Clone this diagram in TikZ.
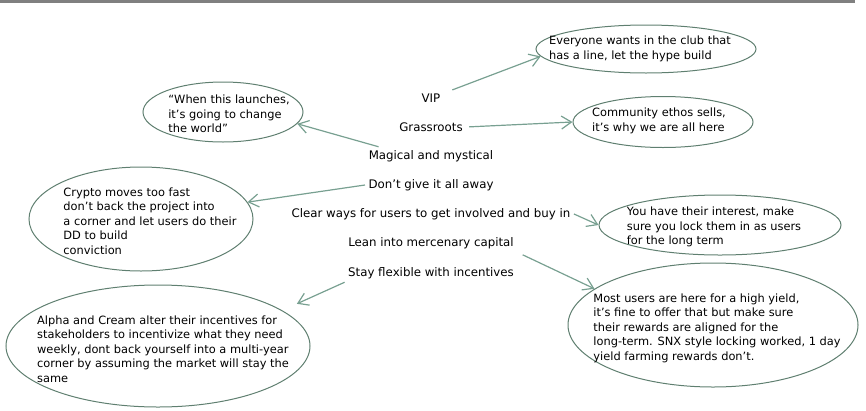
\documentclass[tikz,border=0pt]{standalone}
\usepackage{fontspec}
\setmainfont{DejaVu Sans}
\usetikzlibrary{shapes.geometric,arrows.meta}
\definecolor{linegreen}{HTML}{78A091}
\definecolor{bubblegreen}{HTML}{5F7F70}

\begin{document}
\begin{tikzpicture}[
    x=1pt, y=-1pt,
    word/.style={
        font=\fontsize{11.8}{13}\selectfont
    },
    bubble/.style={
        ellipse,
        draw=bubblegreen,
        line width=1pt
    },
    note/.style={
        align=left,
        inner sep=0pt,
        font=\fontsize{11.4}{14.5}\selectfont
    },
    arr/.style={
        draw=linegreen,
        line width=1.2pt,
        -{Straight Barb[length=10pt,width=13pt]}
    }
]
\useasboundingbox (0,0) rectangle (866,410);

% 위쪽 선
\draw[line width=3pt, gray] (0,1.5) -- (855,1.5);

% 가운데 항목
\node[word] (vip) at (431,98) {VIP};
\node[word] (grass) at (431,127) {Grassroots};
\node[word] (magic) at (431,156) {Magical and mystical};
\node[word] (dont) at (431,185) {Don't give it all away};
\node[word] (clear) at (431,214) {Clear ways for users to get involved and buy in};
\node[word] (lean) at (431,243) {Lean into mercenary capital};
\node[word] (stay) at (431,273) {Stay flexible with incentives};

% 말풍선
\node[bubble, minimum width=160pt, minimum height=60pt] (launch) at (223,112) {};
\node[bubble, minimum width=220pt, minimum height=48pt] (club) at (646,49) {};
\node[bubble, minimum width=180pt, minimum height=51pt] (ethos) at (663,122) {};
\node[bubble, minimum width=224pt, minimum height=104pt] (crypto) at (141,219) {};
\node[bubble, minimum width=242pt, minimum height=60pt] (interest) at (720,225) {};
\node[bubble, minimum width=290pt, minimum height=124pt] (yield) at (713,325) {};
\node[bubble, minimum width=304pt, minimum height=122pt] (alpha) at (158,346) {};

% 말풍선 글
\node[note] (launch-t) at (229,114) {``When this launches,\\it's going to change\\the world''};
\node[note] (club-t) at (640,49) {Everyone wants in the club that\\has a line, let the hype build};
\node[note] (ethos-t) at (659,121) {Community ethos sells,\\it's why we are all here};
\node[note] (crypto-t) at (150,221) {Crypto moves too fast\\don't back the project into\\a corner and let users do their\\DD to build\\conviction};
\node[note] (interest-t) at (714,227) {You have their interest, make\\sure you lock them in as users\\for the long term};
\node[note] (yield-t) at (717,328) {Most users are here for a high yield,\\it's fine to offer that but make sure\\their rewards are aligned for the\\long-term. SNX style locking worked, 1 day\\yield farming rewards don't.};
\node[note] (alpha-t) at (163,349) {Alpha and Cream alter their incentives for\\stakeholders to incentivize what they need\\weekly, dont back yourself into a multi-year\\corner by assuming the market will stay the\\same};

% 화살표
\draw[arr, shorten <=9pt] (vip) -- (club.184);
\draw[arr, shorten <=3pt] (grass.east) -- (ethos.west);
\draw[arr] (magic.170) -- (launch.351);
\draw[arr] (dont.west) -- (crypto.9);
\draw[arr] (clear.east) -- (interest.west);
\draw[arr, shorten <=6pt] (lean.south east) -- (yield.163);
\draw[arr, shorten >=16pt] (stay.south west) -- (alpha.16);

\end{tikzpicture}
\end{document}
